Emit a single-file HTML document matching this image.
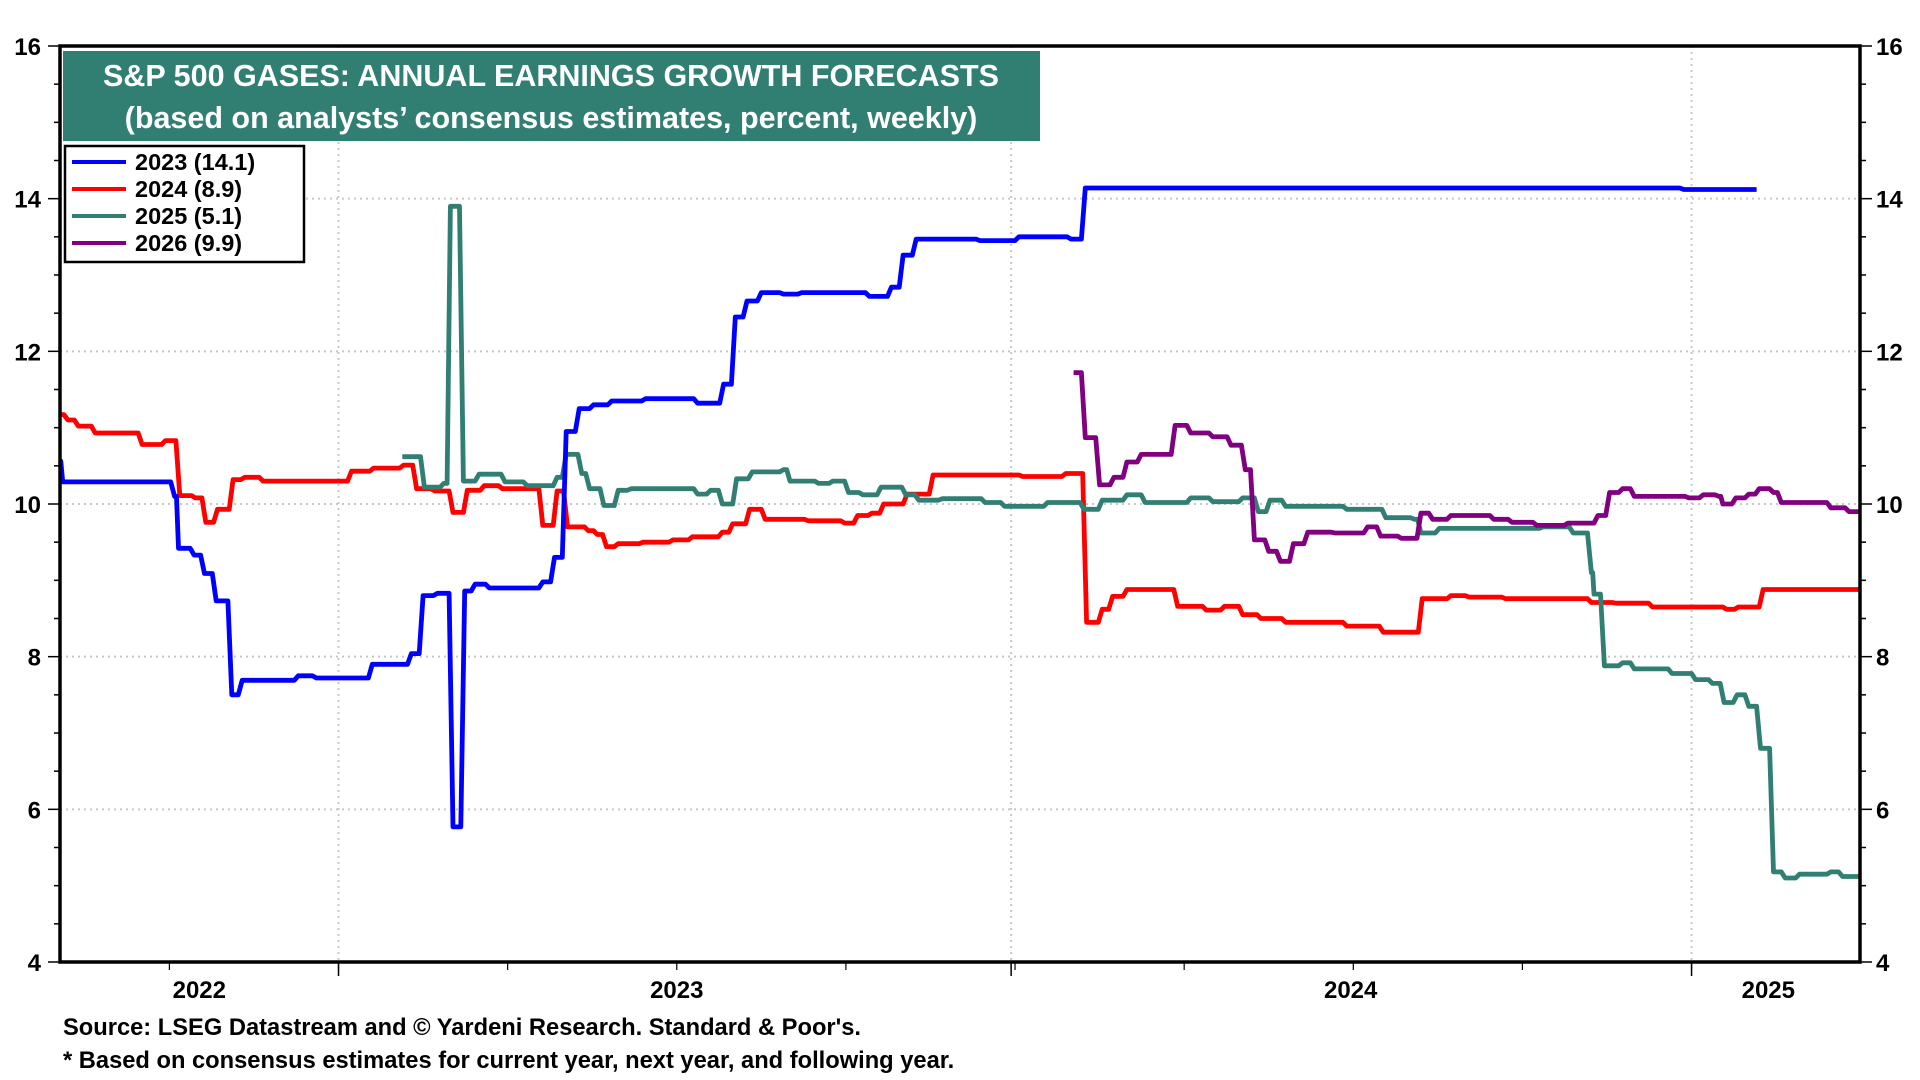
<!DOCTYPE html>
<html><head><meta charset="utf-8"><style>
html,body{margin:0;padding:0;background:#fff;}
svg{display:block;font-family:"Liberation Sans",Arial,sans-serif;}
</style></head><body>
<svg id="chart" width="1920" height="1080" viewBox="0 0 1920 1080">
<g id="grid"></g>
<g id="series"></g>
<g id="axes"></g>
<rect x="63" y="51" width="977" height="90" fill="#317f72"/>
<text x="551" y="86" text-anchor="middle" fill="#fff" font-weight="bold" font-size="30.5">S&amp;P 500 GASES: ANNUAL EARNINGS GROWTH FORECASTS</text>
<text x="551" y="128" text-anchor="middle" fill="#fff" font-weight="bold" font-size="30.5">(based on analysts’ consensus estimates, percent, weekly)</text>
<g>
<rect x="65" y="146" width="239" height="116" fill="#fff" stroke="#000" stroke-width="2.5"/>
<g><line x1="72" y1="162" x2="126" y2="162" stroke="#0000ff" stroke-width="4"/><text x="135" y="170" font-size="23.5" font-weight="bold">2023 (14.1)</text></g>
<g><line x1="72" y1="189" x2="126" y2="189" stroke="#ff0000" stroke-width="4"/><text x="135" y="197" font-size="23.5" font-weight="bold">2024 (8.9)</text></g>
<g><line x1="72" y1="216" x2="126" y2="216" stroke="#317f72" stroke-width="4"/><text x="135" y="224" font-size="23.5" font-weight="bold">2025 (5.1)</text></g>
<g><line x1="72" y1="243" x2="126" y2="243" stroke="#800080" stroke-width="4"/><text x="135" y="251" font-size="23.5" font-weight="bold">2026 (9.9)</text></g>
</g>
<text x="63" y="1035" font-size="23.7" font-weight="bold">Source: LSEG Datastream and © Yardeni Research. Standard &amp; Poor's.</text>
<text x="63" y="1068" font-size="23.7" font-weight="bold">* Based on consensus estimates for current year, next year, and following year.</text>
</svg>
<script>
// weeks since early Aug 2022, values in percent
const weeks2023 = [0,0.3,8.9,9.2,10.4,11.2,12.1,13.3,14.1,18.4,19.8,24.1,27.1,28,29.1,30.3,31.2,32,33.1,37.2,38.1,39,40,41.1,42.5,45.1,49.1,51.1,52,52.9,54,55.7,57.1,62.3,64,64.9,65.9,70.8,73.8,77.8,78.9,124.9,130.5];
const vals2023 = [10.56,10.29,10.1,9.42,9.33,9.09,8.73,7.5,7.69,7.75,7.72,7.9,8.04,8.8,8.83,5.77,8.86,8.95,8.9,8.98,9.3,10.95,11.25,11.3,11.35,11.38,11.32,11.57,12.45,12.66,12.77,12.75,12.77,12.72,12.84,13.26,13.47,13.45,13.5,13.47,14.14,14.12,14.12];
const weeks2024 = [0,0.7,1.5,2.8,6.4,8.2,9.3,10.5,11.3,12.2,13.4,14.3,15.7,22.5,24.2,26.5,27.5,28.9,30.3,31.4,32.7,34.1,37.2,38.3,39.1,40.7,41.4,42.1,43,44.9,47.2,48.7,51,51.8,53.1,54.3,57.6,60.4,61.4,62.5,63.4,65.2,67.2,74.1,77.4,79,80.2,81,82.1,86,88.2,89.6,91,92.4,94.3,99,101.8,104.8,107,108.4,111.2,117.8,119.7,122.5,128.2,129.1,131,138.5];
const vals2024 = [11.17,11.1,11.02,10.93,10.78,10.83,10.11,10.08,9.76,9.93,10.32,10.35,10.3,10.43,10.47,10.51,10.2,10.17,9.89,10.18,10.24,10.2,9.72,10.17,9.7,9.65,9.6,9.44,9.48,9.5,9.53,9.57,9.63,9.74,9.93,9.8,9.78,9.75,9.85,9.88,10.0,10.13,10.38,10.36,10.4,8.45,8.62,8.79,8.88,8.66,8.61,8.66,8.55,8.5,8.45,8.4,8.32,8.76,8.8,8.78,8.76,8.71,8.7,8.65,8.62,8.65,8.88,8.88];
const weeks2025 = [26.4,28.1,29.6,30.1,31.1,32.3,34.3,36,38.3,39,40.2,40.8,41.9,43,44,49.1,50.1,51,52.1,53.3,55.7,56.2,58.4,59.5,60.7,61.8,63.2,65.1,66.1,67.9,71.2,72.7,76,78.8,80.2,82.1,83.5,87,88.7,91,92.2,93.1,94.3,99,102,104.2,104.7,106.1,114.1,116.4,117.8,118,118.8,120.2,121.1,124,125.8,127.1,128,129,129.9,130.8,131.8,132.7,133.8,136.2,137.1,138.5];
const vals2025 = [10.62,10.22,10.27,13.9,10.3,10.39,10.29,10.24,10.35,10.65,10.4,10.2,9.98,10.18,10.2,10.13,10.18,10.0,10.33,10.42,10.45,10.3,10.27,10.3,10.15,10.12,10.22,10.12,10.05,10.07,10.02,9.97,10.02,9.93,10.05,10.12,10.02,10.08,10.03,10.08,9.9,10.05,9.97,9.93,9.82,9.8,9.62,9.68,9.7,9.62,9.1,8.82,7.88,7.92,7.84,7.78,7.7,7.65,7.4,7.5,7.35,6.8,5.18,5.1,5.15,5.18,5.12,5.12];
const weeks2026 = [78,78.9,80,81.1,82.1,83.2,85.8,87,88.7,90.1,91.2,91.9,93,93.9,94.9,96,98.1,100.6,101.6,103.2,104.7,105.6,107,110.3,111.7,113.6,116,118.3,119.2,120.2,121.1,125.3,126.4,127.6,127.9,128.9,129.9,130.7,131.8,132.4,136.2,137.6,138.5];
const vals2026 = [11.72,10.87,10.25,10.35,10.55,10.65,11.03,10.93,10.88,10.77,10.45,9.53,9.38,9.25,9.48,9.63,9.62,9.7,9.58,9.55,9.88,9.8,9.85,9.8,9.76,9.72,9.75,9.85,10.15,10.2,10.1,10.08,10.12,10.1,10.0,10.08,10.13,10.2,10.15,10.02,9.95,9.9,9.9];
const yTicks = [4,6,8,10,12,14,16];
const yearLabels = ["2022","2023","2024","2025"];
const yearLabelWeeks = [10.8,47.5,99.3,131.4];
const yearStartWeeks = [21.5,73.2,125.5];

const NS="http://www.w3.org/2000/svg";
const L=60,R=1860,T=46,B=962,YMIN=4,YMAX=16;
function x(w){return 58.8+w*13.01;}
function y(v){return B-(v-YMIN)/(YMAX-YMIN)*(B-T);}
function mk(tag,attrs,parent){const e=document.createElementNS(NS,tag);for(const k in attrs)e.setAttribute(k,attrs[k]);parent.appendChild(e);return e;}
const grid=document.getElementById('grid'),axes=document.getElementById('axes'),ser=document.getElementById('series');

yTicks.forEach(v=>{
  if(v>YMIN&&v<YMAX){const g=mk('line',{x1:L,x2:R,y1:y(v),y2:y(v),stroke:'#c8c8c8','stroke-width':2,'stroke-dasharray':'2,4'},grid);
  
  }
  const t1=mk('text',{x:41,y:y(v)+9,'text-anchor':'end','font-size':24,'font-weight':'bold'},axes);t1.textContent=v;
  
  
  const t2=mk('text',{x:1876,y:y(v)+9,'font-size':24,'font-weight':'bold'},axes);t2.textContent=v;
  
  
});
for(let v=YMIN;v<=YMAX+0.001;v+=0.5){
  const big=Math.abs(v-Math.round(v/2)*2)<0.01;
  mk('line',{x1:L-(big?12:6),x2:L,y1:y(v),y2:y(v),stroke:'#000','stroke-width':1.5},axes);
  mk('line',{x1:R,x2:R+(big?12:6),y1:y(v),y2:y(v),stroke:'#000','stroke-width':1.5},axes);
}
yearStartWeeks.forEach(w=>{
  const g=mk('line',{x1:x(w),x2:x(w),y1:T,y2:B,stroke:'#c8c8c8','stroke-width':2,'stroke-dasharray':'2,4'},grid);
  
  
  mk('line',{x1:x(w),x2:x(w),y1:B,y2:B+14,stroke:'#000','stroke-width':1.5},axes);
});
for(let w=yearStartWeeks[0]-26;w<140;w+=13){
  if(x(w)>L+2&&x(w)<R-2) mk('line',{x1:x(w),x2:x(w),y1:B,y2:B+8,stroke:'#000','stroke-width':1.2},axes);
}
yearLabels.forEach((s,i)=>{
  const t=mk('text',{x:x(yearLabelWeeks[i]),y:998,'text-anchor':'middle','font-size':24,'font-weight':'bold'},axes);t.textContent=s;
  
  
});
const frame=mk('rect',{x:L,y:T,width:R-L,height:B-T,fill:'none',stroke:'#000','stroke-width':3.5},axes);



function draw(ws,vs,color,name){
  let pts=[[x(ws[0]),y(vs[0])]];
  for(let i=1;i<ws.length;i++){
    const gap=Math.min(0.6,ws[i]-ws[i-1]);
    pts.push([x(ws[i]-gap*0.5),y(vs[i-1])]);
    pts.push([x(ws[i]),y(vs[i])]);
  }
  const p=mk('polyline',{points:pts.map(p=>p[0].toFixed(1)+','+p[1].toFixed(1)).join(' '),fill:'none',stroke:color,'stroke-width':4.8,'stroke-linejoin':'round'},ser);
  
  
}
draw(weeks2024,vals2024,'#ff0000','series-2024');
draw(weeks2025,vals2025,'#317f72','series-2025');
draw(weeks2026,vals2026,'#800080','series-2026');
draw(weeks2023,vals2023,'#0000ff','series-2023');
</script>
</body></html>
